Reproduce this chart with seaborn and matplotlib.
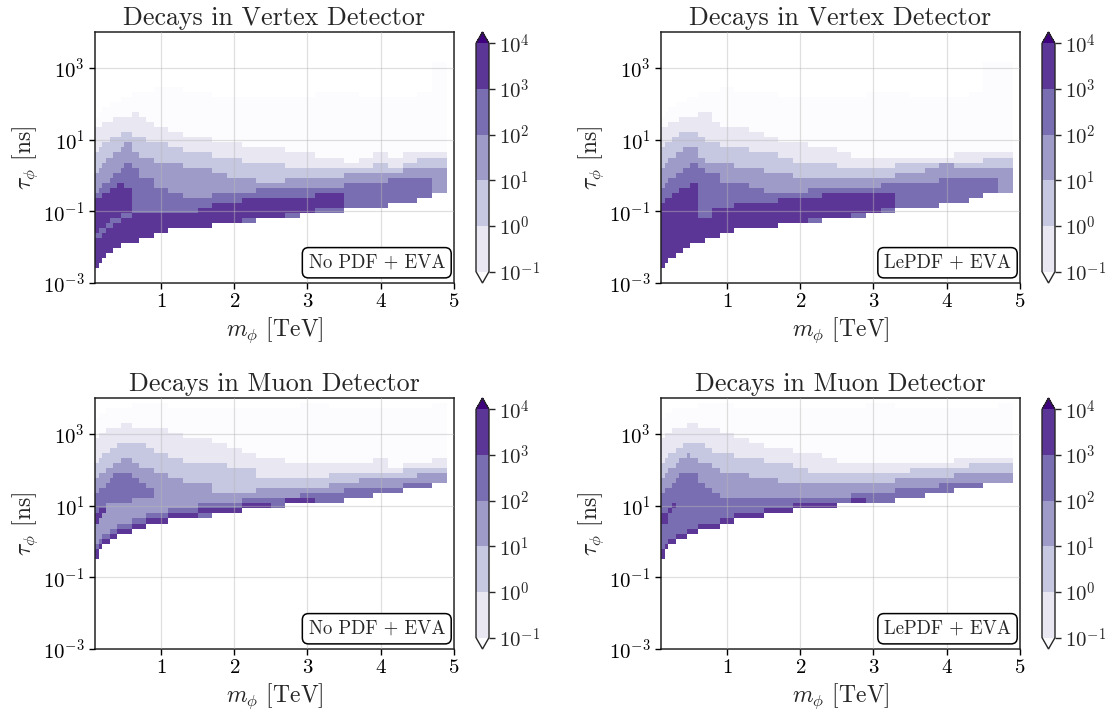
import numpy as np
import matplotlib
matplotlib.use("Agg")
import matplotlib.pyplot as plt
import seaborn as sns
from matplotlib.colors import BoundaryNorm
from matplotlib.ticker import NullLocator, LogFormatterMathtext

nan = np.nan

# ---------------- grid of the histograms ----------------
MASS_EDGES = [0.10, 0.15, 0.20, 0.25, 0.30, 0.35, 0.40, 0.45, 0.50, 0.60, 0.70,
              0.80, 0.90, 1.10, 1.30, 1.50, 1.70, 1.90, 2.10, 2.30, 2.50, 2.70,
              2.90, 3.10, 3.30, 3.50, 3.70, 3.90, 4.10, 4.30, 4.50, 4.70, 4.90]
LOGTAU_MIN, LOGTAU_MAX, N_TAU = -3.0, 4.0, 50

LEVELS = [0.1, 1, 10, 100, 1000, 10000]
LEVEL_LABELS = [r"$10^{-1}$", r"$10^{0}$", r"$10^{1}$", r"$10^{2}$", r"$10^{3}$", r"$10^{4}$"]
# representative event count for each colour band (-1 = below 0.1)
BAND_VALUE = {-1: 0.05, 0: 0.3, 1: 3.0, 2: 30.0, 3: 300.0, 4: 3000.0}

TITLES = ["Decays in Vertex Detector", "Decays in Vertex Detector",
          "Decays in Muon Detector", "Decays in Muon Detector"]
TAGS = ["No PDF + EVA", "LePDF + EVA", "No PDF + EVA", "LePDF + EVA"]

# ------------- band boundaries, log10(tau/ns), one value per mass column -------------
# Vertex detector, No PDF + EVA
VX_NOPDF_LO = [-2.58, -2.44, -2.30, -2.16, -2.16, -2.02, -2.02, -1.88, -1.88, -1.88, -1.74, -1.74,
               -1.60, -1.46, -1.46, -1.46, -1.32, -1.32, -1.32, -1.18, -1.18, -1.18, -1.04, -1.04, -1.04, -0.90, -0.90, -0.90, -0.76, -0.76, -0.62, -0.48]
VX_NOPDF_T4 = [-0.62, -0.62, -0.48, -0.48, -0.34, -0.34, -0.20, -0.20, -0.34, -1.04, -1.04, -1.04,
               -1.04, -1.04, -1.04, -0.90, -0.76, -0.76, -0.62, -0.62, -0.62, -0.62, -0.62, -0.48, -0.48, nan, nan, nan, nan, nan, nan, nan]
VX_NOPDF_T3 = [-0.48, -0.34, -0.20, -0.20, -0.06, 0.08, 0.08, 0.22, 0.36, 0.22, -0.06, -0.06,
               -0.34, -0.48, -0.62, -0.62, -0.48, -0.48, -0.48, -0.34, -0.34, -0.34, -0.34, -0.34, -0.34, -0.20, -0.20, -0.20, -0.06, -0.06, -0.06, nan]
VX_NOPDF_T2 = [0.08, 0.22, 0.36, 0.50, 0.50, 0.64, 0.64, 0.78, 0.92, 0.64, 0.50, 0.50,
               0.36, 0.36, 0.22, 0.22, 0.08, -0.06, -0.06, -0.20, -0.20, -0.06, -0.06, -0.06, -0.06, 0.08, 0.08, 0.08, 0.08, 0.22, 0.22, 0.22]
VX_NOPDF_T1 = [0.64, 0.78, 0.92, 0.92, 1.06, 1.06, 1.06, 1.20, 1.20, 1.06, 1.06, 0.92,
               0.92, 0.78, 0.64, 0.64, 0.50, 0.50, 0.36, 0.36, 0.36, 0.22, 0.22, 0.22, 0.22, 0.22, 0.22, 0.36, 0.22, 0.36, 0.50, 0.50]
VX_NOPDF_T0 = [1.34, 1.34, 1.48, 1.48, 1.48, 1.62, 1.62, 1.62, 1.62, 1.76, 1.62, 1.48,
               1.34, 1.20, 1.06, 1.06, 0.92, 0.92, 0.78, 0.78, 0.78, 0.64, 0.64, 0.50, 0.50, 0.36, 0.50, 0.64, 0.50, 0.64, 0.64, 0.64]
VX_NOPDF_TU = [1.62, 1.76, 1.90, 1.90, 2.04, 2.04, 2.04, 2.18, 2.18, 2.32, 2.32, 2.32,
               2.46, 2.46, 2.32, 2.32, 2.18, 2.18, 2.18, 2.18, 2.18, 2.18, 2.18, 2.32, 2.32, 2.32, 2.18, 2.18, 2.18, 2.18, 2.32, 3.16]
VX_NOPDF_WEDGE_LO = [-1.74, -1.74, -1.60, -1.46, -1.46, -1.32, -1.32, -1.18, -1.18] + [nan] * 23
VX_NOPDF_WEDGE_HI = [-1.60, -1.46, -1.46, -1.32, -1.18, -1.18, -1.18, -1.04, -1.04] + [nan] * 23
VX_NOPDF_RIM = [nan] * 18 + [-1.18, nan, nan, -1.04, nan, -0.90, -0.90] + [nan] * 7

# Vertex detector, LePDF + EVA
VX_LEPDF_LO = [-2.58, -2.44, -2.30, -2.30, -2.16, -2.16, -2.02, -2.02, -1.88, -1.88, -1.74, -1.74,
               -1.60, -1.46, -1.46, -1.46, -1.32, -1.32, -1.32, -1.18, -1.18, -1.18, -1.04, -1.04, -0.90, -0.90, -0.90, -0.76, -0.76, -0.62, -0.48, -0.48]
VX_LEPDF_T4 = [-0.76, -0.62, -0.62, -0.48, -0.48, -0.34, -0.34, -0.34, -0.20, -1.18, -1.18, -0.90,
               -0.90, -0.76, -0.76, -0.76, -0.62, -0.62, -0.62, -0.48, -0.48, -0.48, -0.48, -0.48, nan, nan, nan, nan, nan, nan, nan, nan]
VX_LEPDF_T3 = [-0.34, -0.20, -0.06, -0.06, 0.08, 0.08, 0.22, 0.22, 0.36, 0.22, 0.08, 0.08,
               -0.20, -0.20, -0.34, -0.48, -0.48, -0.48, -0.34, -0.34, -0.34, -0.34, -0.34, -0.20, -0.20, -0.20, -0.20, -0.06, -0.06, -0.06, -0.06, nan]
VX_LEPDF_T2 = [0.22, 0.36, 0.50, 0.50, 0.64, 0.64, 0.78, 0.78, 0.78, 0.50, 0.36, 0.36,
               0.36, 0.22, 0.22, 0.08, 0.08, -0.06, -0.06, -0.06, -0.06, -0.06, -0.06, -0.06, 0.08, 0.08, 0.22, 0.36, 0.22, 0.22, 0.22, 0.22]
VX_LEPDF_T1 = [0.78, 0.92, 0.92, 1.06, 1.06, 1.20, 1.20, 1.20, 1.20, 1.06, 0.92, 0.92,
               0.78, 0.78, 0.64, 0.64, 0.50, 0.36, 0.36, 0.36, 0.22, 0.22, 0.22, 0.22, 0.36, 0.36, 0.36, 0.36, 0.36, 0.36, 0.50, 0.50]
VX_LEPDF_T0 = [1.34, 1.34, 1.48, 1.48, 1.48, 1.62, 1.62, 1.62, 1.62, 1.76, 1.76, 1.48,
               1.34, 1.34, 1.20, 1.06, 0.92, 0.92, 0.78, 0.78, 0.64, 0.50, 0.50, 0.50, 0.50, 0.50, 0.50, 0.50, 0.64, 0.64, 0.64, 0.64]
VX_LEPDF_TU = [1.62, 1.76, 1.90, 1.90, 2.04, 2.04, 2.04, 2.18, 2.18, 2.32, 2.32, 2.32,
               2.46, 2.32, 2.32, 2.32, 2.18, 2.18, 2.18, 2.18, 2.18, 2.18, 2.32, 2.32, 2.32, 2.18, 2.18, 2.18, 2.18, 2.32, 3.16, 3.16]
VX_LEPDF_RIM = [nan] * 18 + [-1.18, nan, nan, -1.04, nan, -0.90] + [nan] * 8

# Muon detector, No PDF + EVA
MU_NOPDF_LO = [-0.48, -0.20, -0.06, -0.06, 0.08, 0.08, 0.22, 0.22, 0.22, 0.36, 0.36, 0.50,
               0.50, 0.64, 0.64, 0.64, 0.78, 0.78, 0.92, 0.92, 0.92, 1.06, 1.06, 1.06, 1.06, 1.20, 1.20, 1.34, 1.34, 1.48, 1.48, 1.62]
MU_NOPDF_T4 = [-0.20, -0.06, 0.08, 0.08, 0.22, 0.22, 0.36, 0.36, 0.36, 0.50, 0.50, 0.64,
               0.64, 0.78, 0.78, 0.92, 0.92, 0.92, 1.06, 1.06, nan, 1.20, 1.20, nan, nan, nan, nan, nan, nan, nan, nan, nan]
MU_NOPDF_T3 = [-0.06, 0.08, 0.22, 0.22, 0.36, 0.36, 0.50, 0.50, 0.50, 0.64, 0.64, 0.78,
               0.78, 0.92, 0.92, 1.06, 1.06, 1.06, 1.20, 1.20, 1.20, 1.20, 1.34, 1.34, 1.34, 1.48, 1.48, 1.48, 1.48, 1.62, 1.62, nan]
MU_NOPDF_T2 = [1.76, 1.90, 1.90, 2.04, 2.04, 2.18, 2.18, 2.32, 2.32, 2.18, 2.04, 2.04,
               1.90, 1.76, 1.62, 1.62, 1.34, 1.34, 1.34, 1.48, 1.48, 1.48, 1.48, 1.48, 1.62, 1.62, 1.76, 1.76, 1.76, 1.76, 1.90, 1.90]
MU_NOPDF_T1 = [2.18, 2.32, 2.46, 2.46, 2.60, 2.60, 2.74, 2.74, 2.74, 2.74, 2.74, 2.60,
               2.46, 2.32, 2.18, 2.18, 2.18, 2.04, 2.04, 1.76, 1.76, 1.76, 1.76, 1.76, 1.90, 1.90, 1.90, 1.90, 1.90, 2.04, 2.04, 2.04]
MU_NOPDF_T0 = [2.88, 3.02, 3.02, 3.16, 3.16, 3.16, 3.16, 3.30, 3.30, 3.16, 3.16, 3.16,
               3.16, 3.02, 2.88, 2.88, 2.74, 2.60, 2.46, 2.32, 2.32, 2.18, 2.18, 2.18, 2.18, 2.18, 2.18, 2.32, 2.04, 2.18, 2.18, 2.32]
MU_NOPDF_TU = [3.44, 3.58, 3.58, 3.72, 3.72, 3.72, 3.72, 3.72, 3.72, 3.86, 3.86, 3.86,
               3.86, 3.72, 3.72, 3.72, 3.72, 3.72, 3.72, 3.72, 3.72, 3.72, 3.86, 3.86, 3.72, 3.72, 3.72, 3.72, 3.72, 3.72, 3.72, 3.86]
MU_NOPDF_BLOB_LO = [0.78, 0.92, 0.92, 1.06, 1.06, 1.06, 1.06, 1.06, 1.06, 1.20, 1.20, 1.20] + [nan] * 20
MU_NOPDF_BLOB_HI = [1.34, 1.48, 1.48, 1.62, 1.76, 1.90, 1.90, 1.90, 1.90, 1.76, 1.62, 1.48] + [nan] * 20
MU_NOPDF_DARK_LO = [0.50, 0.64, 0.78] + [nan] * 29
MU_NOPDF_DARK_HI = [0.78, 0.92, 0.92] + [nan] * 29
MU_NOPDF_RIM = [nan] * 15 + [0.78] + [nan] * 16

# Muon detector, LePDF + EVA
MU_LEPDF_LO = [-0.48, -0.20, -0.06, -0.06, 0.08, 0.08, 0.08, 0.22, 0.22, 0.36, 0.36, 0.36,
               0.50, 0.64, 0.64, 0.78, 0.78, 0.92, 0.92, 0.92, 1.06, 1.06, 1.06, 1.06, 1.20, 1.20, 1.34, 1.34, 1.48, 1.48, 1.62, 1.62]
MU_LEPDF_T4 = [-0.20, -0.06, 0.08, 0.08, 0.22, 0.22, 0.22, 0.36, 0.36, 0.50, 0.50, 0.50,
               0.64, 0.78, 0.78, 0.92, 0.92, 1.06, 1.06, 1.06, nan, 1.20, nan, nan, nan, nan, nan, nan, nan, nan, nan, nan]
MU_LEPDF_T3 = [1.34, 1.48, 1.48, 1.62, 1.76, 1.90, 1.90, 1.90, 1.90, 1.62, 1.48, 1.34,
               1.20, 1.20, 1.20, 1.20, 1.20, 1.20, 1.20, 1.20, 1.20, 1.34, 1.34, 1.34, 1.48, 1.48, 1.48, 1.62, 1.62, 1.62, nan, nan]
MU_LEPDF_T2 = [1.76, 1.90, 2.04, 2.04, 2.18, 2.32, 2.32, 2.46, 2.32, 2.18, 2.18, 2.04,
               1.90, 1.90, 1.76, 1.76, 1.62, 1.62, 1.62, 1.62, 1.62, 1.62, 1.62, 1.62, 1.76, 1.76, 1.76, 1.76, 1.90, 1.90, 1.90, 1.90]
MU_LEPDF_T1 = [2.18, 2.32, 2.46, 2.46, 2.60, 2.60, 2.74, 2.74, 2.74, 2.74, 2.60, 2.46,
               2.46, 2.32, 2.32, 2.18, 2.18, 2.04, 1.90, 1.90, 1.90, 1.90, 1.90, 1.90, 1.90, 2.04, 2.04, 2.04, 2.04, 2.18, 2.18, 2.18]
MU_LEPDF_T0 = [2.88, 3.02, 3.02, 3.16, 3.16, 3.16, 3.16, 3.30, 3.30, 3.16, 3.16, 3.16,
               3.02, 2.88, 2.74, 2.60, 2.60, 2.46, 2.46, 2.32, 2.18, 2.18, 2.18, 2.18, 2.18, 2.18, 2.18, 2.18, 2.32, 2.32, 2.32, 2.32]
MU_LEPDF_TU = [3.44, 3.58, 3.58, 3.72, 3.72, 3.72, 3.72, 3.72, 3.72, 3.86, 3.86, 3.86,
               3.86, 3.72, 3.72, 3.72, 3.72, 3.72, 3.72, 3.72, 3.72, 3.72, 3.86, 3.86, 3.72, 3.72, 3.72, 3.72, 3.72, 3.72, 3.72, 3.86]
MU_LEPDF_DARK_LO = [0.50, 0.50, 0.78, 0.92] + [nan] * 28
MU_LEPDF_DARK_HI = [0.78, 0.78, 0.92, 1.06] + [nan] * 28

# layers painted in order: (colour band, bottom, top)
PANELS = [
    [(-1, VX_NOPDF_LO, VX_NOPDF_TU), (0, VX_NOPDF_LO, VX_NOPDF_T0), (1, VX_NOPDF_LO, VX_NOPDF_T1),
     (2, VX_NOPDF_LO, VX_NOPDF_T2), (3, VX_NOPDF_LO, VX_NOPDF_T3), (4, VX_NOPDF_LO, VX_NOPDF_T4),
     (3, VX_NOPDF_WEDGE_LO, VX_NOPDF_WEDGE_HI), (3, VX_NOPDF_LO, VX_NOPDF_RIM)],
    [(-1, VX_LEPDF_LO, VX_LEPDF_TU), (0, VX_LEPDF_LO, VX_LEPDF_T0), (1, VX_LEPDF_LO, VX_LEPDF_T1),
     (2, VX_LEPDF_LO, VX_LEPDF_T2), (3, VX_LEPDF_LO, VX_LEPDF_T3), (4, VX_LEPDF_LO, VX_LEPDF_T4),
     (3, VX_LEPDF_LO, VX_LEPDF_RIM)],
    [(-1, MU_NOPDF_LO, MU_NOPDF_TU), (0, MU_NOPDF_LO, MU_NOPDF_T0), (1, MU_NOPDF_LO, MU_NOPDF_T1),
     (2, MU_NOPDF_LO, MU_NOPDF_T2), (3, MU_NOPDF_LO, MU_NOPDF_T3), (4, MU_NOPDF_LO, MU_NOPDF_T4),
     (3, MU_NOPDF_BLOB_LO, MU_NOPDF_BLOB_HI), (4, MU_NOPDF_DARK_LO, MU_NOPDF_DARK_HI),
     (3, MU_NOPDF_LO, MU_NOPDF_RIM)],
    [(-1, MU_LEPDF_LO, MU_LEPDF_TU), (0, MU_LEPDF_LO, MU_LEPDF_T0), (1, MU_LEPDF_LO, MU_LEPDF_T1),
     (2, MU_LEPDF_LO, MU_LEPDF_T2), (3, MU_LEPDF_LO, MU_LEPDF_T3), (4, MU_LEPDF_LO, MU_LEPDF_T4),
     (4, MU_LEPDF_DARK_LO, MU_LEPDF_DARK_HI)],
]

# ---------------- build weighted samples ----------------
mass_edges = np.array(MASS_EDGES)
mass_centers = 0.5 * (mass_edges[:-1] + mass_edges[1:])
dy = (LOGTAU_MAX - LOGTAU_MIN) / N_TAU
tau_edges = list(np.linspace(LOGTAU_MIN, LOGTAU_MAX, N_TAU + 1))
tau_centers = LOGTAU_MIN + dy * (np.arange(N_TAU) + 0.5)


def build(layers):
    grid = np.full((len(mass_centers), N_TAU), np.nan)
    for level, bottoms, tops in layers:
        for j in range(len(mass_centers)):
            b, t = bottoms[j], tops[j]
            if np.isnan(b) or np.isnan(t):
                continue
            kb = int(round((b - LOGTAU_MIN) / dy))
            kt = int(round((t - LOGTAU_MIN) / dy))
            grid[j, max(kb, 0):max(kt, 0)] = BAND_VALUE[level]
    jj, kk = np.nonzero(~np.isnan(grid))
    return mass_centers[jj], 10.0 ** tau_centers[kk], grid[jj, kk]


# ---------------- style ----------------
sns.set_style("ticks")
plt.rcParams["font.family"] = "serif"
plt.rcParams["font.serif"] = ["cmr10"]
plt.rcParams["mathtext.fontset"] = "cm"
plt.rcParams["axes.unicode_minus"] = False
plt.rcParams["axes.formatter.use_mathtext"] = True

W, H = 1114, 719
fig = plt.figure(figsize=(W / 100, H / 100), dpi=100)
cmap = plt.get_cmap("Purples")
norm = BoundaryNorm(LEVELS, ncolors=cmap.N, extend="both")

ax_px = [(95, 32), (661, 32), (95, 398), (661, 398)]   # left, top in pixels
AXW, AXH = 359, 251
CB_DX, CBW = 381, 13

for i, layers in enumerate(PANELS):
    lx, ty = ax_px[i]
    ax = fig.add_axes([lx / W, 1 - (ty + AXH) / H, AXW / W, AXH / H])
    xs, ys, ws = build(layers)
    sns.histplot(x=xs, y=ys, weights=ws, bins=[MASS_EDGES, tau_edges],
                 log_scale=(False, True), cmap="Purples", ax=ax)
    mesh = ax.collections[0]
    mesh.set_cmap(cmap)
    mesh.set_norm(norm)

    ax.set_xlim(0.1, 5)
    ax.set_ylim(1e-3, 1e4)
    ax.set_xticks([1, 2, 3, 4, 5])
    ax.set_yticks([1e-3, 1e-1, 1e1, 1e3])
    ax.yaxis.set_major_formatter(LogFormatterMathtext())
    ax.yaxis.set_minor_locator(NullLocator())
    ax.grid(True, which="major", color="#b8b8b8", alpha=0.45, lw=0.9)
    ax.set_axisbelow(False)
    for s in ax.spines.values():
        s.set_visible(True)
        s.set_linewidth(1.1)
        s.set_color("#222222")
    ax.tick_params(direction="out", length=4, width=1, labelsize=15, colors="black")
    ax.set_xlabel(r"$m_\phi$ [TeV]", fontsize=17, labelpad=3)
    ax.set_ylabel(r"$\tau_\phi$ [ns]", fontsize=17, labelpad=2)
    ax.set_title(TITLES[i], fontsize=18.7, pad=5)
    ax.text(0.975, 0.045, TAGS[i], transform=ax.transAxes, ha="right", va="bottom",
            fontsize=13.5, zorder=10,
            bbox=dict(boxstyle="round,pad=0.33", fc="white", ec="black", lw=1.1))

    cax = fig.add_axes([(lx + CB_DX) / W, 1 - (ty + AXH) / H, CBW / W, AXH / H])
    cb = fig.colorbar(mesh, cax=cax, extend="both", ticks=LEVELS)
    cb.set_ticklabels(LEVEL_LABELS)
    cb.ax.tick_params(labelsize=15, length=4, width=1)
    cb.outline.set_linewidth(1.0)
    cb.ax.minorticks_off()

fig.savefig("out.png", dpi=100)
